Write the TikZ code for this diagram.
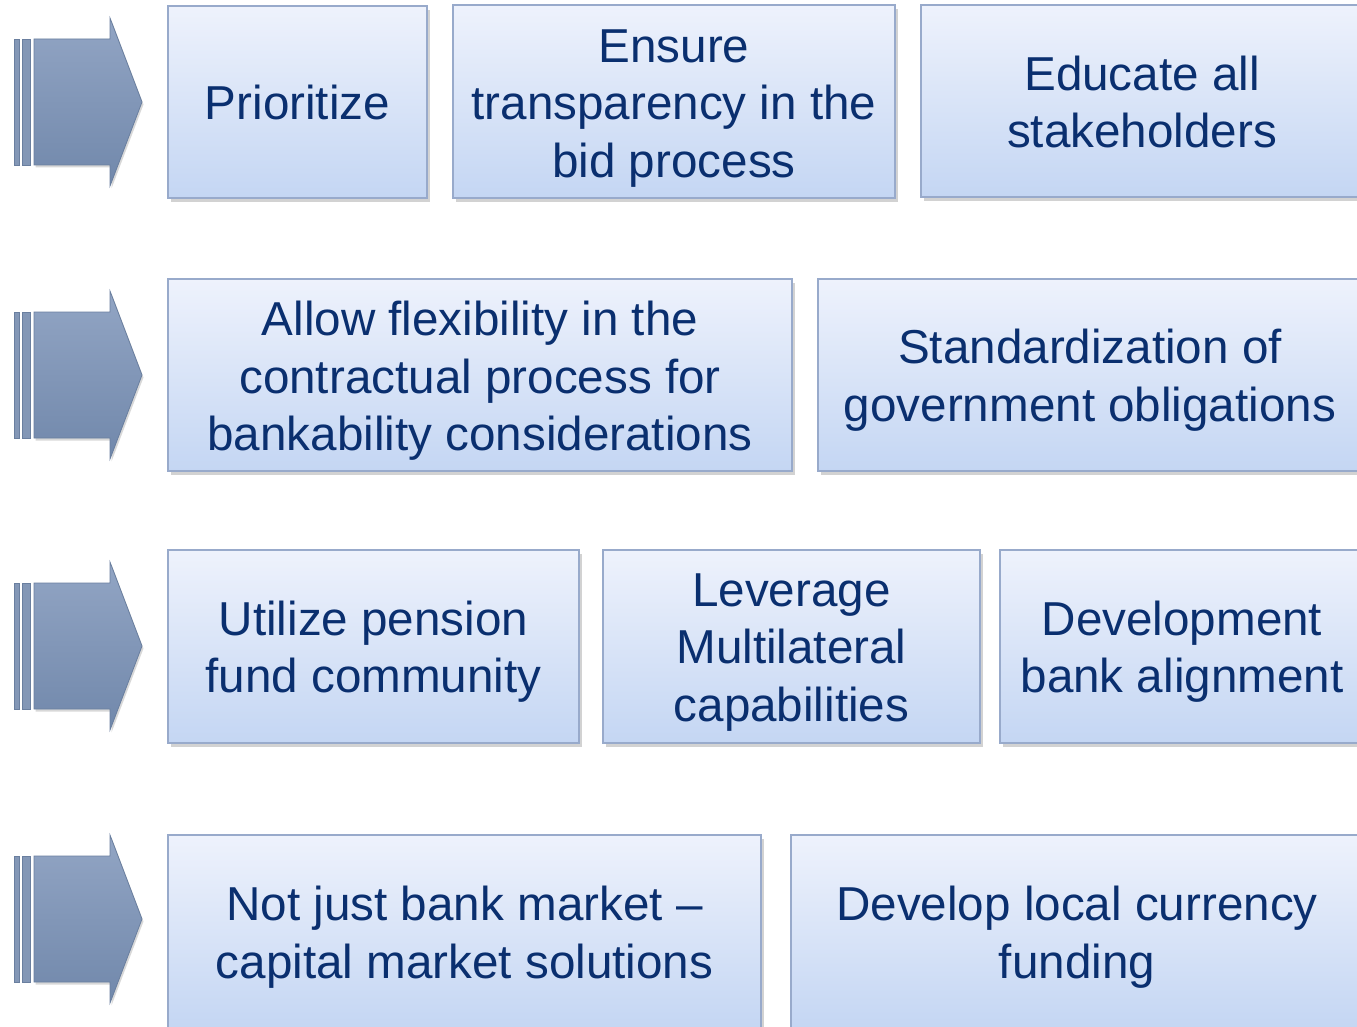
\documentclass[tikz,border=0pt]{standalone}
\usepackage{fontspec}
\setmainfont{Liberation Sans}
\usetikzlibrary{shadows}
\definecolor{cardtop}{HTML}{EEF2FC}
\definecolor{cardbot}{HTML}{C4D6F3}
\definecolor{cardborder}{HTML}{98AACB}
\definecolor{navytext}{HTML}{0A2F6F}
\definecolor{arrtop}{HTML}{92A5C4}
\definecolor{arrbot}{HTML}{7188AB}
\definecolor{arredge}{HTML}{6A7F9F}
\definecolor{barfill}{HTML}{8397B6}
\tikzset{
  card/.style={draw=cardborder, line width=1.6pt, top color=cardtop, bottom color=cardbot,
    drop shadow={opacity=0.35, shadow xshift=2.5pt, shadow yshift=-4pt}, inner sep=0pt},
  cardtext/.style={font=\fontsize{47.6}{57.5}\selectfont, text=navytext, align=center, inner sep=0pt},
  arrowbody/.style={top color=arrtop, bottom color=arrbot, draw=arredge, line width=0.8pt,
    drop shadow={opacity=0.3, shadow xshift=1.5pt, shadow yshift=-2.5pt}},
  arrowbar/.style={fill=barfill, draw=arredge, line width=0.6pt}
}
\begin{document}
\begin{tikzpicture}[x=1pt,y=-1pt]
\useasboundingbox (0,0) rectangle (1357,1027);
\clip (0,0) rectangle (1357,1027);
\fill[white] (0,0) rectangle (1357,1027);
% arrows
\foreach \c in {102,375,646,919}{
  \draw[arrowbar] (14,\c-63) rectangle (19,\c+63);
  \draw[arrowbar] (22,\c-63) rectangle (30,\c+63);
  \draw[arrowbody] (34,\c-63) -- (110,\c-63) -- (110,\c-84) -- (142,\c) -- (110,\c+84) -- (110,\c+63) -- (34,\c+63) -- cycle;
}
% row 1
\node[card, minimum width=259pt, minimum height=192pt] (prio) at (297.5,102) {};
\node[cardtext] (prio-t) at (prio.center) {Prioritize};
\node[card, minimum width=442pt, minimum height=193pt] (ensure) at (674,101.5) {};
\node[cardtext] (ensure-t) at ([yshift=-7pt]ensure.center) {Ensure\\transparency in the\\bid process};
\node[card, minimum width=442pt, minimum height=192pt] (educate) at (1142,101) {};
\node[cardtext] (educate-t) at ([yshift=-1pt]educate.center) {Educate all\\stakeholders};
% row 2
\node[card, minimum width=624pt, minimum height=192pt] (allow) at (480,375) {};
\node[cardtext] (allow-t) at ([yshift=-6pt]allow.center) {Allow flexibility in the\\contractual process for\\bankability considerations};
\node[card, minimum width=544pt, minimum height=192pt] (stand) at (1090,375) {};
\node[cardtext] (stand-t) at ([yshift=-5pt]stand.center) {Standardization of\\government obligations};
% row 3
\node[card, minimum width=411pt, minimum height=193pt] (pension) at (373.5,646.5) {};
\node[cardtext] (pension-t) at ([yshift=-5pt]pension.center) {Utilize pension\\fund community};
\node[card, minimum width=377pt, minimum height=193pt] (lever) at (791.5,646.5) {};
\node[cardtext] (lever-t) at ([yshift=-6pt]lever.center) {Leverage\\Multilateral\\capabilities};
\node[card, minimum width=364pt, minimum height=193pt] (devbank) at (1182,646.5) {};
\node[cardtext] (devbank-t) at ([yshift=-5pt]devbank.center) {Development\\bank alignment};
% row 4
\node[card, minimum width=593pt, minimum height=194pt] (notjust) at (464.5,932) {};
\node[cardtext] (notjust-t) at ([yshift=-5pt]notjust.center) {Not just bank market –\\capital market solutions};
\node[card, minimum width=572pt, minimum height=194pt] (local) at (1077,932) {};
\node[cardtext] (local-t) at ([yshift=-5pt]local.center) {Develop local currency\\funding};
\end{tikzpicture}
\end{document}
